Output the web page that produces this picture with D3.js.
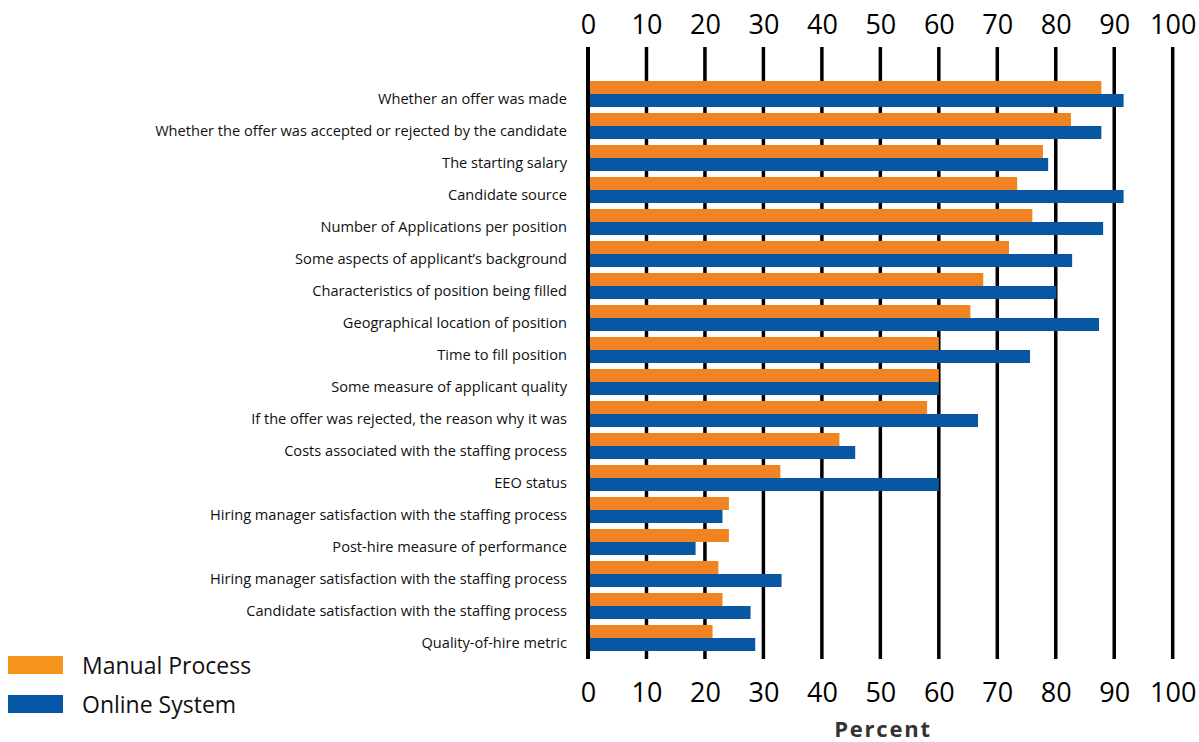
<!DOCTYPE html>
<html>
<head>
<meta charset="utf-8">
<script src="https://cdn.jsdelivr.net/npm/d3@7"></script>
<style>
  html, body { margin: 0; padding: 0; background: #fff; }
  svg { display: block; }
</style>
</head>
<body>
<svg id="chart" width="1199" height="742"></svg>
<script>
const categories = [
  "Whether an offer was made",
  "Whether the offer was accepted or rejected by the candidate",
  "The starting salary",
  "Candidate source",
  "Number of Applications per position",
  "Some aspects of applicant\u2019s background",
  "Characteristics of position being filled",
  "Geographical location of position",
  "Time to fill position",
  "Some measure of applicant quality",
  "If the offer was rejected, the reason why it was",
  "Costs associated with the staffing process",
  "EEO status",
  "Hiring manager satisfaction with the staffing process",
  "Post-hire measure of performance",
  "Hiring manager satisfaction with the staffing process ",
  "Candidate satisfaction with the staffing process",
  "Quality-of-hire metric"
];
const manualProcess = [87.8, 82.6, 77.8, 73.4, 76.0, 72.0, 67.6, 65.4, 60.0, 60.0, 58.0, 43.0, 32.9, 24.1, 24.1, 22.3, 23.0, 21.3];
const onlineSystem  = [91.6, 87.8, 78.7, 91.6, 88.1, 82.8, 80.1, 87.4, 75.6, 60.0, 66.7, 45.7, 60.0, 23.0, 18.4, 33.1, 27.8, 28.6];
const tickValues = [0, 10, 20, 30, 40, 50, 60, 70, 80, 90, 100];
const seriesNames = ["Manual Process", "Online System"];
const axisTitle = "Percent";

const barColors = ["#F08322", "#0857A3"];
const legendColors = ["#F7941E", "#0656A6"];

const svg = d3.select("#chart");

const x = d3.scaleLinear().domain([0, 100]).range([588, 1172.7]);
const y = d3.scaleBand().domain(categories).range([81, 81 + categories.length * 32]).paddingInner(0).paddingOuter(0);
const ySub = d3.scaleBand().domain(seriesNames).range([0, 26]);

const gridTop = 47, gridBottom = 659;

// gridlines
svg.append("g").selectAll("line")
  .data(tickValues.filter(d => d !== 0))
  .join("line")
  .attr("x1", d => x(d)).attr("x2", d => x(d))
  .attr("y1", gridTop).attr("y2", gridBottom)
  .attr("stroke", "#000").attr("stroke-width", 3.5);

// bars
const rows = categories.map((c, i) => ({ c, vals: [manualProcess[i], onlineSystem[i]] }));
const rowG = svg.append("g").selectAll("g")
  .data(rows).join("g")
  .attr("transform", d => `translate(0,${y(d.c)})`);
rowG.selectAll("rect")
  .data(d => d.vals.map((v, k) => ({ v, k })))
  .join("rect")
  .attr("x", x(0))
  .attr("y", d => ySub(seriesNames[d.k]))
  .attr("width", d => x(d.v) - x(0))
  .attr("height", ySub.bandwidth())
  .attr("fill", d => barColors[d.k]);

// zero axis line
svg.append("line")
  .attr("x1", x(0)).attr("x2", x(0))
  .attr("y1", gridTop).attr("y2", gridBottom)
  .attr("stroke", "#000").attr("stroke-width", 4);

// category labels
svg.append("g").selectAll("text")
  .data(categories).join("text")
  .attr("x", 567)
  .attr("y", d => y(d) + 13 + 9.5)
  .attr("text-anchor", "end")
  .attr("font-family", "'Open Sans', sans-serif")
  .attr("font-size", 14.6)
  .attr("fill", "#111")
  .text(d => d.trim());

// top axis
const topAxis = d3.axisTop(x).tickValues(tickValues).tickSize(0).tickPadding(0).tickFormat(d3.format("d"));
const gTop = svg.append("g").attr("transform", "translate(0,34)").call(topAxis);
gTop.select(".domain").remove();
gTop.selectAll("text").attr("font-family", "'Open Sans', sans-serif").attr("font-size", 27).attr("fill", "#000").attr("dy", 0);

// bottom axis
const bottomAxis = d3.axisBottom(x).tickValues(tickValues).tickSize(0).tickPadding(0).tickFormat(d3.format("d"));
const gBot = svg.append("g").attr("transform", "translate(0,702)").call(bottomAxis);
gBot.select(".domain").remove();
gBot.selectAll("text").attr("font-family", "'Open Sans', sans-serif").attr("font-size", 27).attr("fill", "#000").attr("dy", 0);

// axis title
svg.append("text")
  .attr("x", 883).attr("y", 737)
  .attr("text-anchor", "middle")
  .attr("font-family", "'Open Sans', sans-serif")
  .attr("font-weight", "bold")
  .attr("font-size", 22)
  .attr("letter-spacing", 1.8)
  .attr("fill", "#333")
  .text(axisTitle);

// legend
const legend = svg.append("g").selectAll("g")
  .data(seriesNames).join("g")
  .attr("transform", (d, i) => `translate(8,${656 + i * 39})`);
legend.append("rect")
  .attr("width", 55).attr("height", 18)
  .attr("fill", (d, i) => legendColors[i]);
legend.append("text")
  .attr("x", 74).attr("y", 18)
  .attr("font-family", "'Open Sans', sans-serif")
  .attr("font-size", 23)
  .attr("fill", "#111")
  .text(d => d);
</script>
</body>
</html>
